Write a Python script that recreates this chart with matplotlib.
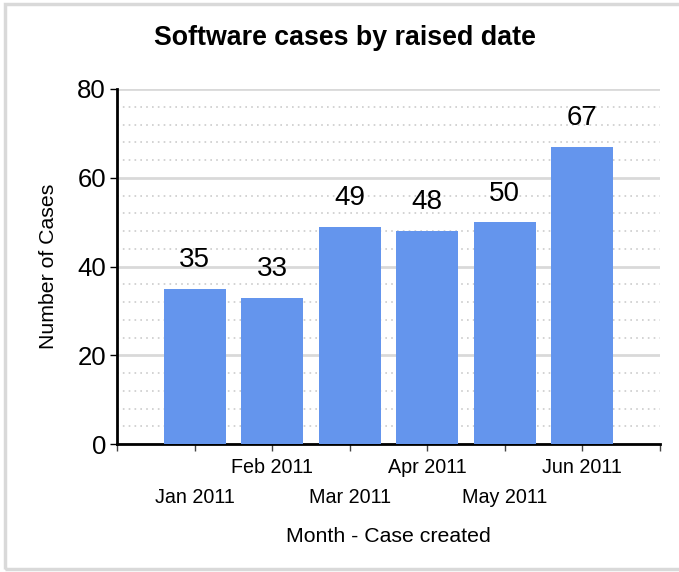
import numpy as np
import matplotlib.pyplot as plt
from matplotlib.patches import Rectangle
from matplotlib.ticker import MultipleLocator

# dados
meses = ['Jan 2011', 'Feb 2011', 'Mar 2011', 'Apr 2011', 'May 2011', 'Jun 2011']
casos = [35, 33, 49, 48, 50, 67]

plt.rcParams['font.family'] = ['Liberation Sans', 'DejaVu Sans']

fig = plt.figure(figsize=(6.79, 5.72), dpi=100)
ax = fig.add_axes([117 / 679, 128 / 572, 543 / 679, 355 / 572])

# moldura cinza em volta
fig.patches.append(Rectangle((5 / 679, 3 / 572), 1.05, 565 / 572, transform=fig.transFigure,
                             fill=False, edgecolor='#d9d9d9', linewidth=2.5))

x = np.arange(len(meses))
ax.bar(x, casos, width=0.8, color='#6495ED', zorder=3)
for xi, v in zip(x, casos):
    ax.text(xi, v + 3.5, str(v), ha='center', va='bottom', fontsize=20, zorder=4)

ax.set_xlim(-1, len(meses))
ax.set_ylim(0, 80)
ax.yaxis.set_major_locator(MultipleLocator(20))
ax.yaxis.set_minor_locator(MultipleLocator(4))
ax.grid(axis='y', which='major', color='#d9d9d9', linewidth=2, zorder=0)
ax.grid(axis='y', which='minor', color='#cccccc', linewidth=1.2, linestyle=(0, (1, 2.5)), zorder=0)
ax.tick_params(axis='y', which='minor', length=0)
ax.tick_params(axis='y', which='major', labelsize=18.5, length=5, width=1, pad=3)

ax.set_xticks(np.arange(-1, len(meses) + 1))
ax.set_xticklabels([''] + meses + [''])
ax.tick_params(axis='x', length=5, width=1, labelsize=14.2, color='#444444', pad=5)
for i, lbl in enumerate(ax.get_xticklabels()[1:-1]):
    lbl.set_y(-0.085 if i % 2 == 0 else 0)

for s in ['top', 'right']:
    ax.spines[s].set_visible(False)
ax.spines['left'].set_linewidth(2)
ax.spines['bottom'].set_linewidth(2)

ax.set_ylabel('Number of Cases', fontsize=15.3, labelpad=14)
fig.text(388 / 679, 1 - 536 / 572, 'Month - Case created', ha='center', va='center', fontsize=15.3)
fig.text(345 / 679, 1 - 38 / 572, 'Software cases by raised date', ha='center', va='center',
         fontsize=19.3, fontweight='bold')

fig.savefig('out.png', dpi=100)
